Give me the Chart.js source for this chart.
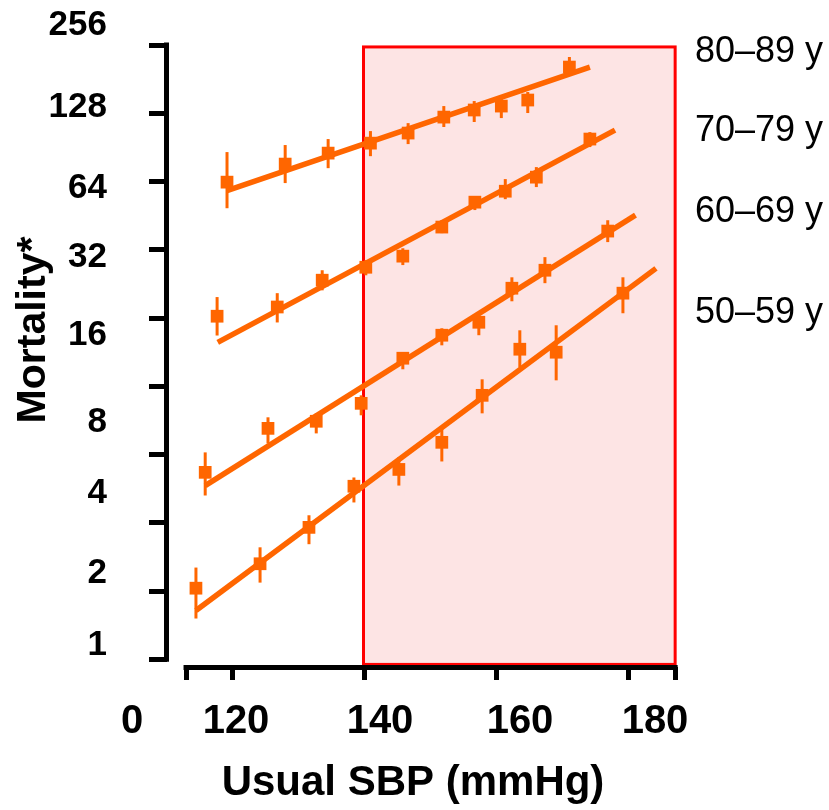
<!DOCTYPE html>
<html>
<head>
<meta charset="utf-8">
<script src="https://cdn.jsdelivr.net/npm/chart.js@4.4.1/dist/chart.umd.min.js"></script>
<style>
html,body{margin:0;padding:0;background:#ffffff;}
#wrap{width:829px;height:810px;position:relative;}
</style>
</head>
<body>
<div id="wrap"><canvas id="c"></canvas></div>
<script>
// ---------- data ----------
const ageGroups = ['80–89 y', '70–79 y', '60–69 y', '50–59 y'];

const sbp80  = [119.2, 128.0, 134.5, 140.9, 146.6, 152.0, 156.6, 160.7, 164.7, 171.0];
const mort80 = [63.6, 76.4, 85.4, 94.5, 104.7, 123.1, 132.3, 137.7, 146.4, 204.6];
const lo80   = [48.8, 63.0, 73.3, 82.8, 93.6, 111.3, 117.1, 121.9, 128.3, 188.7];
const hi80   = [86.3, 92.7, 98.5, 106.8, 115.8, 137.7, 144.9, 149.4, 158.8, 226.6];
const fitX80 = [119.2, 174.1];
const fitY80 = [58.4, 204.6];

const sbp70  = [117.7, 126.8, 133.6, 140.2, 145.8, 151.7, 156.7, 161.3, 166.0, 174.1];
const mort70 = [16.3, 17.9, 23.5, 26.8, 30.0, 40.3, 51.9, 58.0, 66.9, 98.5];
const lo70   = [13.4, 15.3, 21.2, 24.7, 27.4, 37.9, 47.9, 53.5, 60.5, 90.8];
const hi70   = [19.8, 20.6, 26.0, 28.8, 32.5, 43.2, 55.2, 65.6, 74.1, 105.7];
const fitX70 = [117.8, 177.9];
const fitY70 = [12.5, 107.9];

const sbp60  = [115.9, 125.4, 132.7, 139.5, 145.8, 151.7, 157.3, 162.3, 167.3, 176.8];
const mort60 = [3.34, 5.22, 5.61, 6.73, 10.64, 13.44, 15.33, 21.66, 26.0, 38.7];
const lo60   = [2.64, 4.48, 4.96, 5.96, 9.51, 12.13, 13.44, 18.97, 22.8, 34.6];
const hi60   = [4.09, 5.84, 6.08, 7.30, 11.31, 14.42, 16.46, 24.2, 29.7, 43.2];
const fitX60 = [115.9, 181.0];
const fitY60 = [2.92, 45.5];

const sbp50  = [114.5, 124.2, 131.6, 138.4, 145.2, 151.7, 157.8, 163.5, 169.0, 179.1];
const mort50 = [1.03, 1.32, 1.91, 2.90, 3.44, 4.53, 7.30, 11.66, 11.31, 20.6];
const lo50   = [0.757, 1.09, 1.61, 2.46, 2.92, 3.73, 6.08, 9.71, 8.50, 16.8];
const hi50   = [1.27, 1.56, 2.16, 3.17, 3.89, 5.17, 8.59, 14.13, 14.87, 24.2];
const fitX50 = [114.5, 184.1];
const fitY50 = [0.821, 26.5];

const yTickValues = [256, 128, 64, 32, 16, 8, 4, 2, 1, 0.5];
const yTickLabels = ['256', '128', '64', '32', '16', '8', '4', '2', '1'];
const xTickValues = [113, 120, 140, 160, 180, 187];
const xTickLabels = ['0', '120', '140', '160', '180'];
const xTitle = 'Usual SBP (mmHg)';
const yTitle = 'Mortality*';
const highlightX = [139.85, 187];
const highlightY = [0.475, 251];

// ---------- styling / layout ----------
const ORANGE = '#FF6600';
const FONT = '"Liberation Sans", Arial, Helvetica, sans-serif';
// label anchor positions (canvas px)
const yLabelX = 107;
const yLabelBaselines = [35, 117, 198, 267, 345, 432, 503, 583, 655];
const xLabelCenters = [132, 236, 380, 520, 655];
const xLabelBaseline = 733;
const groupLabelX = 695;
const groupLabelBaselines = [62, 141, 222, 323];

const series = [
  {x: sbp80, y: mort80, lo: lo80, hi: hi80, fx: fitX80, fy: fitY80},
  {x: sbp70, y: mort70, lo: lo70, hi: hi70, fx: fitX70, fy: fitY70},
  {x: sbp60, y: mort60, lo: lo60, hi: hi60, fx: fitX60, fy: fitY60},
  {x: sbp50, y: mort50, lo: lo50, hi: hi50, fx: fitX50, fy: fitY50}
];

const datasets = [];
series.forEach((s, i) => {
  datasets.push({
    type: 'line',
    label: ageGroups[i] + ' fit',
    data: s.fx.map((v, k) => ({x: v, y: s.fy[k]})),
    borderColor: ORANGE,
    borderWidth: 5.5,
    pointRadius: 0,
    fill: false,
    order: 2
  });
  datasets.push({
    type: 'scatter',
    label: ageGroups[i],
    data: s.x.map((v, k) => ({x: v, y: s.y[k]})),
    backgroundColor: ORANGE,
    borderColor: ORANGE,
    borderWidth: 0,
    pointStyle: 'rect',
    pointRadius: 9,
    order: 1
  });
});

const decor = {
  id: 'decor',
  beforeDatasetsDraw(chart) {
    const {ctx, chartArea, scales: {x, y}} = chart;
    ctx.save();
    // highlighted region
    const bx0 = x.getPixelForValue(highlightX[0]);
    const bx1 = x.getPixelForValue(highlightX[1]);
    const by0 = y.getPixelForValue(highlightY[1]);
    const by1 = y.getPixelForValue(highlightY[0]);
    ctx.fillStyle = 'rgb(253,228,228)';
    ctx.fillRect(bx0, by0, bx1 - bx0, by1 - by0);
    ctx.strokeStyle = '#FF0000';
    ctx.lineWidth = 3;
    ctx.strokeRect(bx0, by0, bx1 - bx0, by1 - by0);
    // axis lines
    ctx.strokeStyle = '#000';
    ctx.lineWidth = 5;
    ctx.lineCap = 'butt';
    const ax = chartArea.left - 0.5;
    ctx.beginPath();
    ctx.moveTo(ax, y.getPixelForValue(yTickValues[0]) - 2.5);
    ctx.lineTo(ax, y.getPixelForValue(yTickValues[yTickValues.length - 1]) + 2.5);
    ctx.stroke();
    const ay = chartArea.bottom + 0.5;
    ctx.beginPath();
    ctx.moveTo(x.getPixelForValue(xTickValues[0]) - 2.5, ay);
    ctx.lineTo(x.getPixelForValue(xTickValues[xTickValues.length - 1]) + 2.5, ay);
    ctx.stroke();
    // error bars
    ctx.strokeStyle = ORANGE;
    ctx.lineWidth = 3;
    series.forEach(s => {
      s.x.forEach((v, k) => {
        const px = x.getPixelForValue(v);
        ctx.beginPath();
        ctx.moveTo(px, y.getPixelForValue(s.lo[k]));
        ctx.lineTo(px, y.getPixelForValue(s.hi[k]));
        ctx.stroke();
      });
    });
    ctx.restore();
  },
  afterDraw(chart) {
    const {ctx} = chart;
    ctx.save();
    ctx.fillStyle = '#000';
    // y tick labels
    ctx.font = 'bold 35px ' + FONT;
    ctx.textAlign = 'right';
    ctx.textBaseline = 'alphabetic';
    yTickLabels.forEach((t, i) => ctx.fillText(t, yLabelX, yLabelBaselines[i]));
    // x tick labels
    ctx.font = 'bold 40px ' + FONT;
    ctx.textAlign = 'center';
    xTickLabels.forEach((t, i) => ctx.fillText(t, xLabelCenters[i], xLabelBaseline));
    // x title
    ctx.font = 'bold 42px ' + FONT;
    ctx.fillText(xTitle, 413, 795);
    // y title
    ctx.save();
    ctx.translate(45, 330);
    ctx.rotate(-Math.PI / 2);
    ctx.font = 'bold 41px ' + FONT;
    ctx.textAlign = 'center';
    ctx.fillText(yTitle, 0, 0);
    ctx.restore();
    // age group labels
    ctx.font = '36px ' + FONT;
    ctx.textAlign = 'left';
    ageGroups.forEach((t, i) => ctx.fillText(t, groupLabelX, groupLabelBaselines[i]));
    ctx.restore();
  }
};

new Chart(document.getElementById('c'), {
  data: {datasets},
  options: {
    responsive: true,
    maintainAspectRatio: false,
    animation: false,
    events: [],
    layout: {padding: {top: 45, right: 152, left: 0, bottom: 0}},
    plugins: {legend: {display: false}, tooltip: {enabled: false}},
    scales: {
      x: {
        type: 'linear',
        position: 'bottom',
        min: 110.12,
        max: 187.28,
        afterBuildTicks: s => { s.ticks = xTickValues.map(v => ({value: v})); },
        afterFit: s => { s.height = 143; },
        ticks: {display: false},
        border: {display: false},
        grid: {display: true, drawOnChartArea: false, drawTicks: true, tickLength: 13, tickWidth: 5, color: '#000', tickColor: '#000'}
      },
      y: {
        type: 'logarithmic',
        position: 'left',
        min: 0.4627,
        max: 256,
        afterBuildTicks: s => { s.ticks = yTickValues.map(v => ({value: v})); },
        afterFit: s => { s.width = 167; },
        ticks: {display: false},
        border: {display: false},
        grid: {display: true, drawOnChartArea: false, drawTicks: true, tickLength: 18, tickWidth: 5, color: '#000', tickColor: '#000'}
      }
    }
  },
  plugins: [decor]
});
</script>
</body>
</html>
